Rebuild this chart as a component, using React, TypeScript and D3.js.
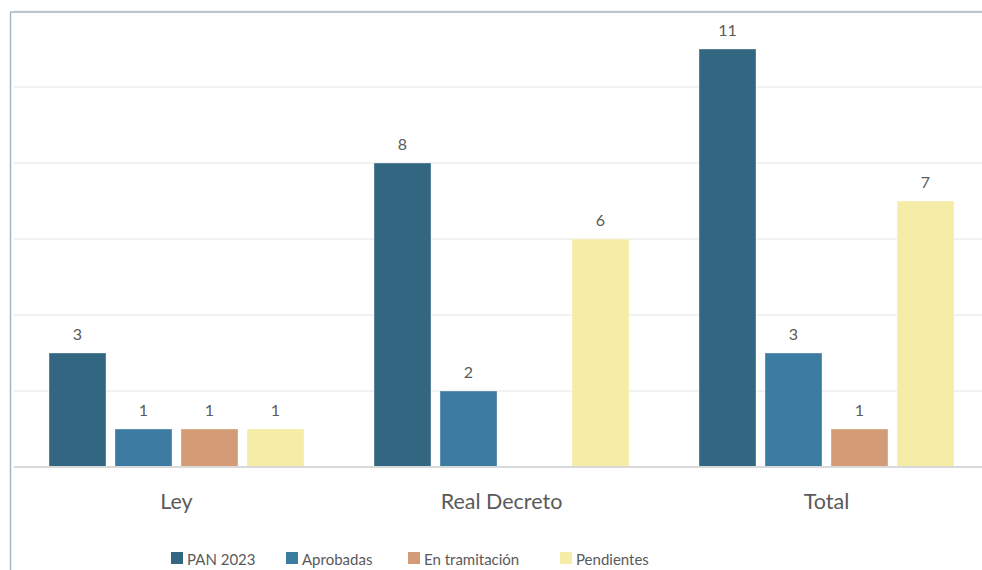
import React from "react";
import * as d3 from "d3";

const categories = ["Ley", "Real Decreto", "Total"];
const seriesNames = ["PAN 2023", "Aprobadas", "En tramitación", "Pendientes"];
const pan2023 = [3, 8, 11];
const aprobadas = [1, 2, 3];
const enTramitacion = [1, 0, 1];
const pendientes = [1, 6, 7];
const gridTicks = [0, 2, 4, 6, 8, 10, 12];
const colors = ["#336781", "#3c7ca2", "#d49c76", "#f4eca7"];

const W = 982;
const H = 570;

export default function App() {
  const series = [pan2023, aprobadas, enTramitacion, pendientes];
  const x0 = d3.scaleBand<string>().domain(categories).range([14, 989]).paddingInner(0).paddingOuter(0);
  const y = d3.scaleLinear().domain([0, 12]).range([467, 11]);
  const barW = 57;
  const step = 66;
  const font = "Lato, 'Open Sans', sans-serif";
  const legendX = [171, 286, 408, 560];

  return (
    <svg width={W} height={H} style={{ position: "absolute", left: 0, top: 0, background: "#fff" }}>
      <rect x={0} y={0} width={W} height={H} fill="#fff" />
      {gridTicks.slice(1).map((t) => (
        <line key={t} x1={14} x2={W} y1={y(t)} y2={y(t)} stroke="#e4e4e4" strokeWidth={1} />
      ))}
      {categories.map((c, ci) => {
        const cx = (x0(c) as number) + x0.bandwidth() / 2;
        return (
          <g key={c}>
            {series.map((s, si) => {
              const v = s[ci];
              const bx = cx - (step * 3 + barW) / 2 + si * step;
              if (v === 0) return null;
              return (
                <g key={si}>
                  <rect x={bx} y={y(v)} width={barW} height={y(0) - y(v)} fill={colors[si]} stroke="rgba(255,255,255,0.35)" strokeWidth={1} />
                  <text x={bx + barW / 2} y={y(v) - 13} textAnchor="middle" fontFamily={font} fontSize={16} fill="#5a5a5a">
                    {v}
                  </text>
                </g>
              );
            })}
            <text x={cx} y={509} textAnchor="middle" fontFamily={font} fontSize={21.5} fill="#5a5a5a">
              {c}
            </text>
          </g>
        );
      })}
      <line x1={14} x2={W} y1={y(0)} y2={y(0)} stroke="#d9d9d9" strokeWidth={2} />
      <line x1={10.5} x2={10.5} y1={12} y2={H} stroke="#a8b6c6" strokeWidth={1.5} />
      <line x1={10} x2={W} y1={12} y2={12} stroke="#a8b6c6" strokeWidth={1.5} />
      {seriesNames.map((n, i) => (
        <g key={n}>
          <rect x={legendX[i]} y={552} width={12} height={12} fill={colors[i]} />
          <text x={legendX[i] + 16} y={564.5} fontFamily={font} fontSize={15} fill="#5a5a5a">
            {n}
          </text>
        </g>
      ))}
    </svg>
  );
}
